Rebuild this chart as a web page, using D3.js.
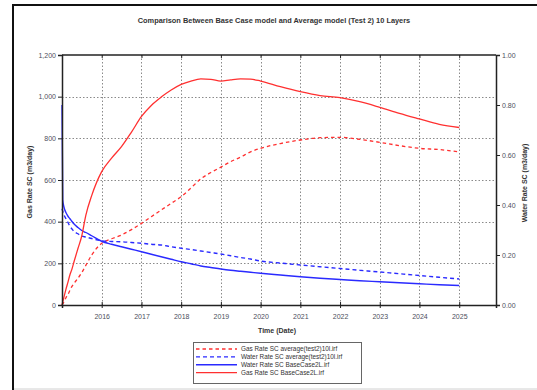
<!DOCTYPE html>
<html>
<head>
<meta charset="utf-8">
<script src="https://cdn.jsdelivr.net/npm/d3@7"></script>
<style>
  html, body { margin: 0; padding: 0; background: #fff; }
  svg { display: block; font-family: "Liberation Sans", Arial, sans-serif; }
</style>
</head>
<body>
<svg id="chart" width="537" height="390"></svg>
<script>
// Sample dates shared by all four series
const dates = [
  "2015-01-01","2015-01-08","2015-01-20","2015-02-06","2015-02-25","2015-03-15",
  "2015-04-01","2015-04-20","2015-05-27","2015-07-01","2015-08-08","2015-10-01",
  "2016-01-01","2016-04-01","2016-07-01","2016-10-01",
  "2017-01-01","2017-04-01","2017-07-01","2017-10-01",
  "2018-01-01","2018-04-01","2018-07-01","2018-10-01",
  "2019-01-01","2019-04-01","2019-07-01","2019-10-01",
  "2020-01-01","2020-07-01","2021-01-01","2021-07-01","2022-01-01","2022-07-01",
  "2023-01-01","2023-07-01","2024-01-01","2024-07-01","2025-01-01"
];

// Gas Rate SC (m3/day), left axis
const gasAverage = [
  0, 5, 15, 35, 50, 70, 88, 103, 128, 155, 190, 240,
  296, 318, 336, 362,
  392, 424, 456, 488,
  520, 562, 606, 636,
  662, 688, 710, 735,
  752, 775, 792, 803, 805, 795, 781, 765, 752, 746, 735
];
const gasBase = [
  0, 15, 40, 75, 110, 145, 170, 205, 270, 330, 430, 525,
  640, 705, 760, 830,
  905, 958, 998, 1032,
  1059, 1075, 1085, 1083,
  1075, 1081, 1085, 1084,
  1075, 1048, 1024, 1005, 995, 976, 949, 920, 893, 867, 852
];

// Water Rate SC (m3/day), right axis
const waterAverage = [
  0.385, 0.375, 0.36, 0.345, 0.33, 0.315, 0.305, 0.295, 0.285, 0.276, 0.272, 0.266,
  0.257, 0.254, 0.253, 0.25,
  0.247, 0.243, 0.24, 0.233,
  0.227, 0.222, 0.216, 0.21,
  0.204, 0.197, 0.19, 0.184,
  0.176, 0.168, 0.16, 0.153, 0.146, 0.139, 0.132, 0.125, 0.118, 0.111, 0.104
];
const waterBase = [
  0.80, 0.42, 0.39, 0.37, 0.355, 0.345, 0.335, 0.325, 0.31, 0.298, 0.29, 0.277,
  0.255, 0.243, 0.233, 0.223,
  0.213, 0.203, 0.193, 0.183,
  0.173, 0.165, 0.156, 0.15,
  0.144, 0.139, 0.135, 0.131,
  0.127, 0.12, 0.113, 0.107, 0.102, 0.097, 0.093, 0.089, 0.085, 0.081, 0.078
];

const leftTicks = [0, 200, 400, 600, 800, 1000, 1200];
const rightTicks = [0, 0.2, 0.4, 0.6, 0.8, 1.0];
const yearTicks = ["2016","2017","2018","2019","2020","2021","2022","2023","2024","2025"];

const titleText = "Comparison Between Base Case model and Average model (Test 2) 10 Layers";
const legendLabels = [
  "Gas Rate SC average(test2)10l.irf",
  "Water Rate SC average(test2)10l.irf",
  "Water Rate SC BaseCase2L.irf",
  "Gas Rate SC BaseCase2L.irf"
];

const parse = d3.timeParse("%Y-%m-%d");
const t = dates.map(parse);

const svg = d3.select("#chart");
const plot = { left: 62, right: 496, top: 55, bottom: 305 };

const x = d3.scaleTime()
  .domain([parse("2015-01-01"), parse("2025-12-05")])
  .range([plot.left, plot.right]);
const yL = d3.scaleLinear().domain([0, 1200]).range([plot.bottom, plot.top]);
const yR = d3.scaleLinear().domain([0, 1]).range([plot.bottom, plot.top]);

const labelColor = "#4d4f5c";

// Outer frame
svg.append("rect")
  .attr("x", 13).attr("y", 5).attr("width", 600).attr("height", 420)
  .attr("fill", "none").attr("stroke", "#111").attr("stroke-width", 2);
svg.append("line")
  .attr("x1", 14).attr("x2", 537).attr("y1", 389).attr("y2", 389)
  .attr("stroke", "#d0d0d0").attr("stroke-width", 1);

// Title
svg.append("text")
  .attr("x", 274).attr("y", 22.5)
  .attr("text-anchor", "middle")
  .attr("font-size", 7.4).attr("font-weight", "bold").attr("fill", "#333")
  .text(titleText);

// Grid
const grid = svg.append("g")
  .attr("stroke", "#8a8a8a").attr("stroke-width", 1).attr("stroke-dasharray", "1.5,2");
grid.selectAll("line.v").data(yearTicks).join("line")
  .attr("x1", d => Math.round(x(parse(d + "-01-01"))) + 0.5)
  .attr("x2", d => Math.round(x(parse(d + "-01-01"))) + 0.5)
  .attr("y1", plot.top).attr("y2", plot.bottom);
grid.selectAll("line.h").data(leftTicks.slice(1, -1)).join("line")
  .attr("x1", plot.left).attr("x2", plot.right)
  .attr("y1", d => Math.round(yL(d)) + 0.5)
  .attr("y2", d => Math.round(yL(d)) + 0.5);

// Series
const lineL = vals => d3.line().x((d, i) => x(t[i])).y(d => yL(d)).curve(d3.curveMonotoneX)(vals);
const lineR = vals => d3.line().x((d, i) => x(t[i])).y(d => yR(d)).curve(d3.curveMonotoneX)(vals);

const red = "#ff3030", blue = "#2a2aff";
const series = [
  { path: lineL(gasAverage), color: red, dash: "3.5,3", width: 1.3 },
  { path: lineR(waterAverage), color: blue, dash: "4,3", width: 1.4 },
  { path: lineR(waterBase), color: blue, dash: null, width: 1.4 },
  { path: lineL(gasBase), color: red, dash: null, width: 1.3 }
];
svg.append("g").selectAll("path").data(series).join("path")
  .attr("d", d => d.path)
  .attr("fill", "none")
  .attr("stroke", d => d.color)
  .attr("stroke-width", d => d.width)
  .attr("stroke-dasharray", d => d.dash);

// Axes
const axisColor = "#222";
const gLeft = svg.append("g").attr("transform", `translate(${plot.left},0)`)
  .call(d3.axisLeft(yL).tickValues(leftTicks).tickSize(4).tickPadding(2)
    .tickFormat(d3.format(",")));
const gRight = svg.append("g").attr("transform", `translate(${plot.right},0)`)
  .call(d3.axisRight(yR).tickValues(rightTicks).tickSize(4).tickPadding(2)
    .tickFormat(d3.format(".2f")));
const gBottom = svg.append("g").attr("transform", `translate(0,${plot.bottom})`)
  .call(d3.axisBottom(x).tickValues(yearTicks.map(d => parse(d + "-01-01")))
    .tickSize(3).tickPadding(6).tickFormat(d3.timeFormat("%Y")));
const gTop = svg.append("g").attr("transform", `translate(0,${plot.top})`)
  .call(d3.axisBottom(x).tickValues(yearTicks.map(d => parse(d + "-01-01")))
    .tickSize(3).tickFormat(""));

[gLeft, gRight, gBottom, gTop].forEach(g => {
  g.select(".domain").attr("stroke", axisColor).attr("stroke-width", 1.5);
  g.selectAll(".tick line").attr("stroke", axisColor).attr("stroke-width", 1);
  g.selectAll("text").attr("font-size", 7).attr("fill", labelColor)
    .attr("font-family", "'Liberation Sans', Arial, sans-serif");
});
gBottom.selectAll(".tick line").attr("y1", -3);
gTop.select(".domain").remove();
svg.append("line")
  .attr("x1", plot.left).attr("x2", plot.right)
  .attr("y1", plot.top).attr("y2", plot.top)
  .attr("stroke", axisColor).attr("stroke-width", 1.5);

// Axis titles
svg.append("text")
  .attr("transform", "translate(32,182) rotate(-90)")
  .attr("text-anchor", "middle").attr("font-size", 7).attr("font-weight", "bold")
  .attr("fill", "#333").text("Gas Rate SC (m3/day)");
svg.append("text")
  .attr("transform", "translate(527,183) rotate(-90)")
  .attr("text-anchor", "middle").attr("font-size", 7).attr("font-weight", "bold")
  .attr("fill", "#333").text("Water Rate SC (m3/day)");
svg.append("text")
  .attr("x", 277).attr("y", 333)
  .attr("text-anchor", "middle").attr("font-size", 7).attr("font-weight", "bold")
  .attr("fill", "#333").text("Time (Date)");

// Legend
const legend = svg.append("g");
legend.append("rect")
  .attr("x", 193.5).attr("y", 342.5).attr("width", 168).attr("height", 41)
  .attr("fill", "#fff").attr("stroke", "#666").attr("stroke-width", 1);
const rows = legend.selectAll("g.row").data(series).join("g")
  .attr("transform", (d, i) => `translate(0,${349 + i * 7.9})`);
rows.append("line")
  .attr("x1", 196).attr("x2", 237).attr("y1", 0).attr("y2", 0)
  .attr("stroke", d => d.color).attr("stroke-width", d => d.width)
  .attr("stroke-dasharray", d => d.dash);
rows.append("text")
  .attr("x", 241).attr("y", 2.3)
  .attr("font-size", 6.4).attr("fill", "#333")
  .text((d, i) => legendLabels[i]);
</script>
</body>
</html>
